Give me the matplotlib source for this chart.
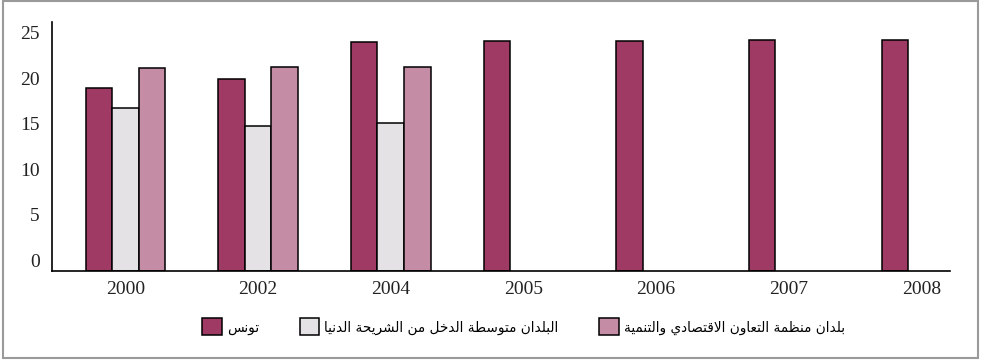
import numpy as np
import matplotlib.pyplot as plt
from matplotlib.patches import Rectangle

years = ['2000', '2002', '2004', '2005', '2006', '2007', '2008']
tunisia = [18.9, 19.9, 24.0, 24.1, 24.1, 24.2, 24.2]
lower_mid = [16.7, 14.8, 15.1, np.nan, np.nan, np.nan, np.nan]
oecd = [21.1, 21.2, 21.2, np.nan, np.nan, np.nan, np.nan]
names = ['تونس',
         'البلدان متوسطة الدخل من الشريحة الدنيا',
         'بلدان منظمة التعاون الاقتصادي والتنمية']
colors = ['#9e3a63', '#e5e2e5', '#c48ca5']

# arabic shaping: matplotlib does not join letters, so use presentation forms
FOUR = {'ب': 0xFE8F, 'ت': 0xFE95, 'ح': 0xFEA1, 'خ': 0xFEA5, 'س': 0xFEB1,
        'ش': 0xFEB5, 'ص': 0xFEB9, 'ط': 0xFEC1, 'ظ': 0xFEC5, 'ع': 0xFEC9,
        'ق': 0xFED5, 'ل': 0xFEDD, 'م': 0xFEE1, 'ن': 0xFEE5, 'ي': 0xFEF1}
TWO = {'ا': 0xFE8D, 'ة': 0xFE93, 'د': 0xFEA9, 'ر': 0xFEAD, 'و': 0xFEED}


def shape(s):
    # merge lam + alef first
    chars = []
    i = 0
    while i < len(s):
        if s[i] == 'ل' and i + 1 < len(s) and s[i + 1] == 'ا':
            chars.append('LA')
            i += 2
        else:
            chars.append(s[i])
            i += 1
    out = []
    for k, c in enumerate(chars):
        prev = chars[k - 1] if k > 0 else None
        nxt = chars[k + 1] if k + 1 < len(chars) else None
        join_prev = prev in FOUR
        join_next = nxt in FOUR or nxt in TWO or nxt == 'LA'
        if c == 'LA':
            out.append(chr(0xFEFC if join_prev else 0xFEFB))
        elif c in FOUR:
            b = FOUR[c]
            if join_prev and join_next:
                out.append(chr(b + 3))
            elif join_prev:
                out.append(chr(b + 1))
            elif join_next:
                out.append(chr(b + 2))
            else:
                out.append(chr(b))
        elif c in TWO:
            out.append(chr(TWO[c] + (1 if join_prev else 0)))
        else:
            out.append(c)
    return ''.join(out[::-1])


fig = plt.figure(figsize=(9.83, 3.6), dpi=100)
ax = fig.add_axes([0.0529, 0.2472, 0.9135, 0.6917])

x = np.arange(len(years))
w = 0.2
base = -1.2  # bars start at the drawn baseline, a little under the 0 label
for off, vals, c, n in zip([-w, 0, w], [tunisia, lower_mid, oecd], colors, names):
    v = np.array(vals, dtype=float)
    ax.bar(x + off, v - base, w, bottom=base, color=c, edgecolor='black',
           linewidth=1.1, label=shape(n))

ax.set_xlim(-0.554, 6.216)
ax.set_ylim(-1.21, 26.2)
ax.set_xticks(x)
ax.set_xticklabels(years)
ax.set_yticks([0, 5, 10, 15, 20, 25])
ax.tick_params(length=0, labelsize=14, colors='#222222')
ax.tick_params(axis='y', pad=9)
ax.tick_params(axis='x', pad=7)
for t in ax.get_xticklabels() + ax.get_yticklabels():
    t.set_fontfamily('Liberation Serif')
for s in ['top', 'right']:
    ax.spines[s].set_visible(False)
for s in ['left', 'bottom']:
    ax.spines[s].set_linewidth(1.2)

ax.legend(loc='center', bbox_to_anchor=(0.5326, 0.092), bbox_transform=fig.transFigure,
          ncol=3, frameon=False, prop={'family': 'DejaVu Sans', 'size': 9.8},
          handlelength=1.45, handleheight=1.55, handletextpad=0.35, columnspacing=3.0)

fig.patches.append(Rectangle((0.003, 0.006), 0.992, 0.99, transform=fig.transFigure,
                             fill=False, edgecolor='#9a9a9a', linewidth=1.5))

fig.savefig('out.png', dpi=100)
